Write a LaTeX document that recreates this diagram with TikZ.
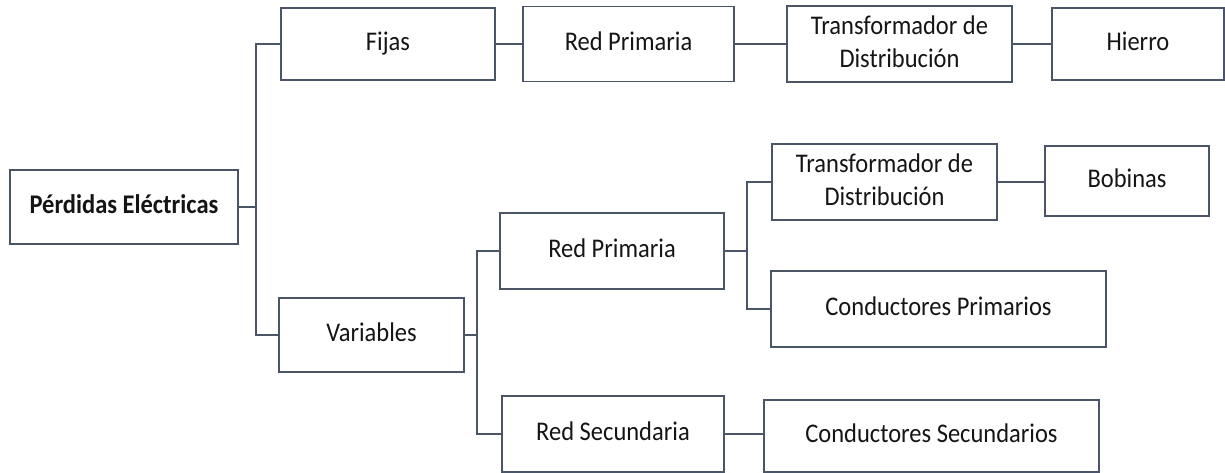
\documentclass[tikz,border=0pt]{standalone}
\usepackage{fontspec}
\setmainfont{Carlito}
\definecolor{edge}{HTML}{4A5568}
\definecolor{ink}{HTML}{151515}
% labels are set slightly taller than wide
\newcommand\lbl[1]{\scalebox{1}[1.1]{\begin{tabular}{@{}c@{}}#1\end{tabular}}}
\begin{document}
\begin{tikzpicture}[x=1pt,y=-1pt,
  box/.style={draw=edge, line width=1.6pt, fill=white, inner sep=0pt,
    text=ink, font=\fontsize{24.5}{30}\selectfont},
  link/.style={draw=edge, line width=1.6pt}]
\useasboundingbox (0,0) rectangle (1225,473);

% level 0
\node[box, minimum width=228pt, minimum height=74pt, font=\fontsize{24.5}{30}\selectfont\bfseries] (perd) at (124,207) {\lbl{Pérdidas Eléctricas}};

% fixed losses branch
\node[box, minimum width=214pt, minimum height=72pt] (fijas) at (388,44) {\lbl{Fijas}};
\node[box, minimum width=211pt, minimum height=75pt] (rp1) at (628.5,44) {\lbl{Red Primaria}};
\node[box, minimum width=225pt, minimum height=76pt] (td1) at (899.5,44) {\lbl{Transformador de\\Distribución}};
\node[box, minimum width=172pt, minimum height=72pt] (hierro) at (1138,44) {\lbl{Hierro}};

% variable losses branch
\node[box, minimum width=185pt, minimum height=74pt] (var) at (371.5,335) {\lbl{Variables}};
\node[box, minimum width=224pt, minimum height=76pt] (rp2) at (612,251) {\lbl{Red Primaria}};
\node[box, minimum width=222pt, minimum height=76pt] (rs) at (613,434) {\lbl{Red Secundaria}};
\node[box, minimum width=225pt, minimum height=76pt] (td2) at (884.5,182) {\lbl{Transformador de\\Distribución}};
\node[box, minimum width=164pt, minimum height=70pt] (bob) at (1127,181) {\lbl{Bobinas}};
\node[box, minimum width=335pt, minimum height=76pt] (cp) at (938.5,309) {\lbl{Conductores Primarios}};
\node[box, minimum width=335pt, minimum height=72pt] (cs) at (931.5,436) {\lbl{Conductores Secundarios}};

% connectors
\draw[link] (perd.east) -- ++(17,0) |- (fijas.west);
\draw[link] (perd.east) -- ++(17,0) |- (var.west);
\draw[link] (fijas.east) -- (rp1.west |- fijas.east);
\draw[link] (rp1.east) -- (td1.west |- rp1.east);
\draw[link] (td1.east) -- (hierro.west |- td1.east);

\draw[link] (var.east) -- ++(12,0) |- (rp2.west);
\draw[link] (var.east) -- ++(12,0) |- (rs.west);
\draw[link] (rp2.east) -- ++(22,0) |- (td2.west);
\draw[link] (rp2.east) -- ++(22,0) |- (cp.west);
\draw[link] (td2.east) -- (bob.west |- td2.east);
\draw[link] (rs.east) -- (cs.west |- rs.east);
\end{tikzpicture}
\end{document}
